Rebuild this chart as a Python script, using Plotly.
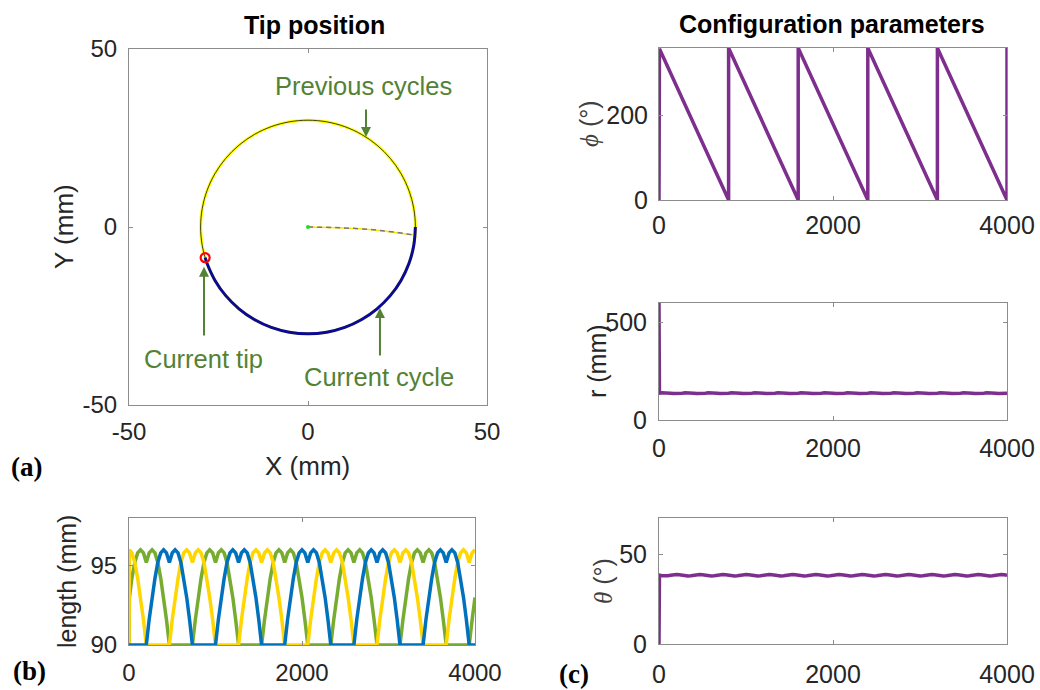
import plotly.graph_objects as go

# ---------------- data ----------------
# (a) tip trajectory, mm
prev_x = [30, 29.54, 28.19, 25.98, 22.98, 19.28, 15, 10.26, 5.21, 0, -5.21, -10.26, -15, -19.28, -22.98, -25.98, -28.19, -29.54,
          -30, -29.54, -28.19, -25.98, -22.98, -19.28, -15, -10.26, -5.21, 0, 5.21, 10.26, 15, 19.28, 22.98, 25.98, 28.19, 29.54, 30]
prev_y = [0, 5.21, 10.26, 15, 19.28, 22.98, 25.98, 28.19, 29.54, 30, 29.54, 28.19, 25.98, 22.98, 19.28, 15, 10.26, 5.21,
          0, -5.21, -10.26, -15, -19.28, -22.98, -25.98, -28.19, -29.54, -30, -29.54, -28.19, -25.98, -22.98, -19.28, -15, -10.26, -5.21, 0]
cur_x = [30, 29.54, 28.19, 25.98, 22.98, 19.28, 15, 10.26, 5.21, 0, -5.21, -10.26, -15, -19.28, -22.98, -25.98, -28.19, -28.73]
cur_y = [0, -5.21, -10.26, -15, -19.28, -22.98, -25.98, -28.19, -29.54, -30, -29.54, -28.19, -25.98, -22.98, -19.28, -15, -10.26, -8.62]
tip_x = [-28.73]
tip_y = [-8.62]
backbone_x = [0, 10, 20, 29.3]
backbone_y = [0, -0.25, -0.95, -2.2]

# time samples (shared by (b) and (c))
t_samples = [0, 5,
    33, 67, 100, 133, 167, 200, 233, 267, 300, 333, 367, 400, 433, 467, 500, 533, 567, 600, 633, 667, 700, 733, 767, 800,
    833, 867, 900, 933, 967, 1000, 1033, 1067, 1100, 1133, 1167, 1200, 1233, 1267, 1300, 1333, 1367, 1400, 1433, 1467, 1500, 1533, 1567, 1600,
    1633, 1667, 1700, 1733, 1767, 1800, 1833, 1867, 1900, 1933, 1967, 2000, 2033, 2067, 2100, 2133, 2167, 2200, 2233, 2267, 2300, 2333, 2367, 2400,
    2433, 2467, 2500, 2533, 2567, 2600, 2633, 2667, 2700, 2733, 2767, 2800, 2833, 2867, 2900, 2933, 2967, 3000, 3033, 3067, 3100, 3133, 3167, 3200,
    3233, 3267, 3300, 3333, 3367, 3400, 3433, 3467, 3500, 3533, 3567, 3600, 3633, 3667, 3700, 3733, 3767, 3800, 3833, 3867, 3900, 3933, 3967, 4000]

# (b) tendon lengths, mm
len_yellow = [90, 96.0,
    95.8, 95.2, 94.2, 93.0, 91.6, 90, 90, 90, 90, 90, 90, 90, 90, 90, 91.6, 93.0, 94.2, 95.2, 95.8, 96.0, 95.8, 95.2, 95.8, 96.0,
    95.8, 95.2, 94.2, 93.0, 91.6, 90, 90, 90, 90, 90, 90, 90, 90, 90, 91.6, 93.0, 94.2, 95.2, 95.8, 96.0, 95.8, 95.2, 95.8, 96.0,
    95.8, 95.2, 94.2, 93.0, 91.6, 90, 90, 90, 90, 90, 90, 90, 90, 90, 91.6, 93.0, 94.2, 95.2, 95.8, 96.0, 95.8, 95.2, 95.8, 96.0,
    95.8, 95.2, 94.2, 93.0, 91.6, 90, 90, 90, 90, 90, 90, 90, 90, 90, 91.6, 93.0, 94.2, 95.2, 95.8, 96.0, 95.8, 95.2, 95.8, 96.0,
    95.8, 95.2, 94.2, 93.0, 91.6, 90, 90, 90, 90, 90, 90, 90, 90, 90, 91.6, 93.0, 94.2, 95.2, 95.8, 96.0, 95.8, 95.2, 95.8, 96.0]
len_blue = [90, 90,
    90, 90, 90, 90, 90, 90, 91.6, 93.0, 94.2, 95.2, 95.8, 96.0, 95.8, 95.2, 95.8, 96.0, 95.8, 95.2, 94.2, 93.0, 91.6, 90, 90, 90,
    90, 90, 90, 90, 90, 90, 91.6, 93.0, 94.2, 95.2, 95.8, 96.0, 95.8, 95.2, 95.8, 96.0, 95.8, 95.2, 94.2, 93.0, 91.6, 90, 90, 90,
    90, 90, 90, 90, 90, 90, 91.6, 93.0, 94.2, 95.2, 95.8, 96.0, 95.8, 95.2, 95.8, 96.0, 95.8, 95.2, 94.2, 93.0, 91.6, 90, 90, 90,
    90, 90, 90, 90, 90, 90, 91.6, 93.0, 94.2, 95.2, 95.8, 96.0, 95.8, 95.2, 95.8, 96.0, 95.8, 95.2, 94.2, 93.0, 91.6, 90, 90, 90,
    90, 90, 90, 90, 90, 90, 91.6, 93.0, 94.2, 95.2, 95.8, 96.0, 95.8, 95.2, 95.8, 96.0, 95.8, 95.2, 94.2, 93.0, 91.6, 90, 90, 90]
len_green = [90, 93.0,
    94.2, 95.2, 95.8, 96.0, 95.8, 95.2, 95.8, 96.0, 95.8, 95.2, 94.2, 93.0, 91.6, 90, 90, 90, 90, 90, 90, 90, 90, 90, 91.6, 93.0,
    94.2, 95.2, 95.8, 96.0, 95.8, 95.2, 95.8, 96.0, 95.8, 95.2, 94.2, 93.0, 91.6, 90, 90, 90, 90, 90, 90, 90, 90, 90, 91.6, 93.0,
    94.2, 95.2, 95.8, 96.0, 95.8, 95.2, 95.8, 96.0, 95.8, 95.2, 94.2, 93.0, 91.6, 90, 90, 90, 90, 90, 90, 90, 90, 90, 91.6, 93.0,
    94.2, 95.2, 95.8, 96.0, 95.8, 95.2, 95.8, 96.0, 95.8, 95.2, 94.2, 93.0, 91.6, 90, 90, 90, 90, 90, 90, 90, 90, 90, 91.6, 93.0,
    94.2, 95.2, 95.8, 96.0, 95.8, 95.2, 95.8, 96.0, 95.8, 95.2, 94.2, 93.0, 91.6, 90, 90, 90, 90, 90, 90, 90, 90, 90, 91.6, 93.0]

# (c) configuration parameters
phi_t = [0, 5, 800, 800, 1600, 1600, 2400, 2400, 3200, 3200, 4000, 4000]
phi_deg = [0, 358, 0, 360, 0, 360, 0, 360, 0, 360, 0, 360]
r_mm = [600, 137.5,
    139.4, 140.2, 139.4, 137.5, 135.6, 134.8, 135.6, 137.5, 139.4, 140.2, 139.4, 137.5, 135.6, 134.8, 135.6, 137.5, 139.4, 140.2, 139.4, 137.5, 135.6, 134.8, 135.6, 137.5,
    139.4, 140.2, 139.4, 137.5, 135.6, 134.8, 135.6, 137.5, 139.4, 140.2, 139.4, 137.5, 135.6, 134.8, 135.6, 137.5, 139.4, 140.2, 139.4, 137.5, 135.6, 134.8, 135.6, 137.5,
    139.4, 140.2, 139.4, 137.5, 135.6, 134.8, 135.6, 137.5, 139.4, 140.2, 139.4, 137.5, 135.6, 134.8, 135.6, 137.5, 139.4, 140.2, 139.4, 137.5, 135.6, 134.8, 135.6, 137.5,
    139.4, 140.2, 139.4, 137.5, 135.6, 134.8, 135.6, 137.5, 139.4, 140.2, 139.4, 137.5, 135.6, 134.8, 135.6, 137.5, 139.4, 140.2, 139.4, 137.5, 135.6, 134.8, 135.6, 137.5,
    139.4, 140.2, 139.4, 137.5, 135.6, 134.8, 135.6, 137.5, 139.4, 140.2, 139.4, 137.5, 135.6, 134.8, 135.6, 137.5, 139.4, 140.2, 139.4, 137.5, 135.6, 134.8, 135.6, 137.5]
theta_deg = [0, 38.2,
    37.9, 37.8, 37.9, 38.2, 38.5, 38.6, 38.5, 38.2, 37.9, 37.8, 37.9, 38.2, 38.5, 38.6, 38.5, 38.2, 37.9, 37.8, 37.9, 38.2, 38.5, 38.6, 38.5, 38.2,
    37.9, 37.8, 37.9, 38.2, 38.5, 38.6, 38.5, 38.2, 37.9, 37.8, 37.9, 38.2, 38.5, 38.6, 38.5, 38.2, 37.9, 37.8, 37.9, 38.2, 38.5, 38.6, 38.5, 38.2,
    37.9, 37.8, 37.9, 38.2, 38.5, 38.6, 38.5, 38.2, 37.9, 37.8, 37.9, 38.2, 38.5, 38.6, 38.5, 38.2, 37.9, 37.8, 37.9, 38.2, 38.5, 38.6, 38.5, 38.2,
    37.9, 37.8, 37.9, 38.2, 38.5, 38.6, 38.5, 38.2, 37.9, 37.8, 37.9, 38.2, 38.5, 38.6, 38.5, 38.2, 37.9, 37.8, 37.9, 38.2, 38.5, 38.6, 38.5, 38.2,
    37.9, 37.8, 37.9, 38.2, 38.5, 38.6, 38.5, 38.2, 37.9, 37.8, 37.9, 38.2, 38.5, 38.6, 38.5, 38.2, 37.9, 37.8, 37.9, 38.2, 38.5, 38.6, 38.5, 38.2]

# tick labels
xy_ticks = [-50, 0, 50]
xy_ticktext = ["-50", "0", "50"]
time_ticks = [0, 2000, 4000]
time_ticktext = ["0", "2000", "4000"]

# ---------------- figure ----------------
W, H = 1040, 690
def fx(p): return p / W
def fy(p): return 1 - p / H

PURPLE = "#7E2F8E"
GREEN_TXT = "#548235"
FONT = "Liberation Sans, Arial, sans-serif"
LINEC = "#8c8c8c"

fig = go.Figure()

# (a)
fig.add_trace(go.Scatter(x=prev_x, y=prev_y, mode="lines", line=dict(color="#FFFF00", width=3, shape="spline"), xaxis="x", yaxis="y"))
fig.add_trace(go.Scatter(x=prev_x, y=prev_y, mode="lines", line=dict(color="#111111", width=0.8, shape="spline"), xaxis="x", yaxis="y"))
fig.add_trace(go.Scatter(x=cur_x, y=cur_y, mode="lines", line=dict(color="#0A0A9A", width=3, shape="spline"), xaxis="x", yaxis="y"))
fig.add_trace(go.Scatter(x=backbone_x, y=backbone_y, mode="lines", line=dict(color="#FFE600", width=1.5, shape="spline"), xaxis="x", yaxis="y"))
fig.add_trace(go.Scatter(x=backbone_x, y=backbone_y, mode="lines", line=dict(color="#777777", width=1.5, dash="5px,4px", shape="spline"), xaxis="x", yaxis="y"))
fig.add_trace(go.Scatter(x=backbone_x[:1], y=backbone_y[:1], mode="markers", marker=dict(color="#22DD22", size=4), xaxis="x", yaxis="y"))
fig.add_trace(go.Scatter(x=tip_x, y=tip_y, mode="markers",
                         marker=dict(symbol="circle-open", color="#FF0000", size=9, line=dict(width=2.2, color="#FF0000")),
                         xaxis="x", yaxis="y"))

# (b)
fig.add_trace(go.Scatter(x=t_samples, y=len_green, mode="lines", line=dict(color="#77AC30", width=3.5), xaxis="x2", yaxis="y2"))
fig.add_trace(go.Scatter(x=t_samples, y=len_yellow, mode="lines", line=dict(color="#FFD600", width=3.5), xaxis="x2", yaxis="y2"))
fig.add_trace(go.Scatter(x=t_samples, y=len_blue, mode="lines", line=dict(color="#0072BD", width=3.5), xaxis="x2", yaxis="y2"))

# (c)
fig.add_trace(go.Scatter(x=phi_t, y=phi_deg, mode="lines", line=dict(color=PURPLE, width=3.5), xaxis="x3", yaxis="y3"))
fig.add_trace(go.Scatter(x=t_samples, y=r_mm, mode="lines", line=dict(color=PURPLE, width=3.5), xaxis="x4", yaxis="y4"))
fig.add_trace(go.Scatter(x=t_samples, y=theta_deg, mode="lines", line=dict(color=PURPLE, width=3.5), xaxis="x5", yaxis="y5"))

def ax(domain, rng, tickvals, ticktext, anchor, size=24, standoff=8):
    return dict(domain=domain, range=rng, tickvals=tickvals, ticktext=ticktext, anchor=anchor,
                showline=True, mirror="ticks", linecolor=LINEC, linewidth=1,
                ticks="inside", ticklen=4, tickcolor=LINEC, tickwidth=1,
                showgrid=False, zeroline=False, fixedrange=True, automargin=False,
                ticklabelstandoff=standoff,
                tickfont=dict(family=FONT, size=size, color="#262626"))

xa = [fx(129), fx(487)]
xb = [fx(129), fx(475)]
xc = [fx(659), fx(1007)]

fig.update_layout(
    width=W, height=H, autosize=False,
    margin=dict(l=0, r=0, t=0, b=0, pad=0, autoexpand=False),
    paper_bgcolor="white", plot_bgcolor="white",
    showlegend=False,
    xaxis=ax(xa, [-50, 50], xy_ticks, xy_ticktext, "y", standoff=5),
    yaxis=ax([fy(405), fy(49)], [-50, 50], xy_ticks, xy_ticktext, "x", standoff=6),
    xaxis2=ax(xb, [0, 4000], time_ticks, time_ticktext, "y2", standoff=6),
    yaxis2=ax([fy(645), fy(518)], [90, 98], [90, 95], ["90", "95"], "x2", standoff=6),
    xaxis3=ax(xc, [0, 4000], time_ticks, time_ticktext, "y3", 25, standoff=3),
    yaxis3=ax([fy(200), fy(48)], [0, 360], [0, 200], ["0", "200"], "x3", 25, standoff=5),
    xaxis4=ax(xc, [0, 4000], time_ticks, time_ticktext, "y4", 25, standoff=6),
    yaxis4=ax([fy(420), fy(303)], [0, 600], [0, 500], ["0", "500"], "x4", 25, standoff=6),
    xaxis5=ax(xc, [0, 4000], time_ticks, time_ticktext, "y5", 25, standoff=8),
    yaxis5=ax([fy(644), fy(518)], [0, 70], [0, 50], ["0", "50"], "x5", 25, standoff=6),
)

annotations = []
def txt(x, y, text, size=24, color="#262626", angle=0, family=FONT):
    annotations.append(dict(x=fx(x), y=fy(y), xref="paper", yref="paper", text=text, showarrow=False,
                            xanchor="center", yanchor="middle", textangle=angle,
                            font=dict(family=family, size=size, color=color)))

txt(314, 25, "<b>Tip position</b>", 25, "#000000")
txt(832, 24, "<b>Configuration parameters</b>", 25, "#000000")
txt(307, 466, "X (mm)", 26)
txt(64, 227, "Y (mm)", 26, angle=-90)
txt(67, 582, "length (mm)", 25, angle=-90)
txt(589, 124, "<span style='font-family:Liberation Serif'><i>ϕ</i></span> (°)", 25, "#404040", angle=-90)
txt(597, 361, "r (mm)", 25, angle=-90)
txt(603, 581, "<span style='font-family:Liberation Serif'><i>θ</i></span> (°)", 25, "#404040", angle=-90)
txt(26, 467, "<b>(a)</b>", 27, "#000000", family="Liberation Serif, Times New Roman, serif")
txt(29, 671, "<b>(b)</b>", 27, "#000000", family="Liberation Serif, Times New Roman, serif")
txt(574, 674, "<b>(c)</b>", 27, "#000000", family="Liberation Serif, Times New Roman, serif")

# green callouts in panel (a)
for (x, y, text) in [(15.6, 39.6, "Previous cycles"), (-29.3, -37.1, "Current tip"), (19.8, -42.1, "Current cycle")]:
    annotations.append(dict(x=x, y=y, xref="x", yref="y", text=text, showarrow=False,
                            xanchor="center", yanchor="middle",
                            font=dict(family=FONT, size=25.5, color=GREEN_TXT)))
for (hx, hy, tx, ty) in [(16.2, 25.3, 16.2, 33.4), (-29.05, -11.2, -29.05, -30.9), (20.1, -22.75, 20.1, -36.5)]:
    annotations.append(dict(x=hx, y=hy, ax=tx, ay=ty, xref="x", yref="y", axref="x", ayref="y",
                            text="", showarrow=True, arrowhead=2, arrowsize=1, arrowwidth=2,
                            arrowcolor=GREEN_TXT))
fig.update_layout(annotations=annotations)

fig.write_html("out.html", config={"displayModeBar": False},
               post_script="document.body.style.margin='0px';")
